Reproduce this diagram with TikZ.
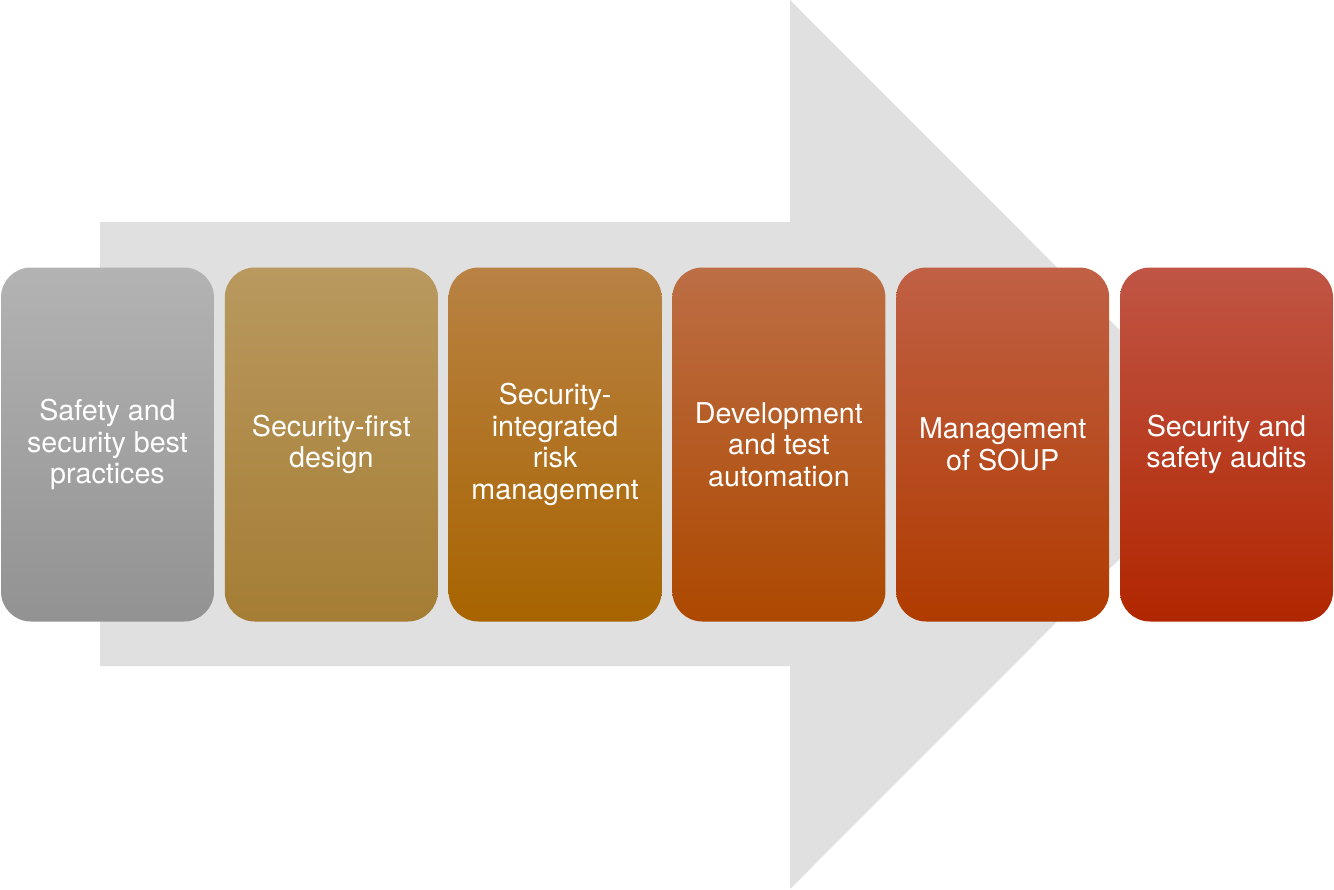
\documentclass[tikz,border=0pt]{standalone}
\usepackage{fontspec}
\setmainfont{TeX Gyre Heros}
\definecolor{arrowgray}{HTML}{E0E0E0}
\definecolor{aT}{HTML}{B3B3B3}\definecolor{aM}{HTML}{A3A3A3}\definecolor{aB}{HTML}{929292}
\definecolor{bT}{HTML}{B9995F}\definecolor{bM}{HTML}{B18A3F}\definecolor{bB}{HTML}{A57D34}
\definecolor{cT}{HTML}{B98244}\definecolor{cM}{HTML}{B27000}\definecolor{cB}{HTML}{A86400}
\definecolor{dT}{HTML}{BD6E45}\definecolor{dM}{HTML}{B95300}\definecolor{dB}{HTML}{AD4800}
\definecolor{eT}{HTML}{C06045}\definecolor{eM}{HTML}{BA4500}\definecolor{eB}{HTML}{B03B00}
\definecolor{fT}{HTML}{C05545}\definecolor{fM}{HTML}{BC3300}\definecolor{fB}{HTML}{B12600}
\tikzset{
  stagebox/.style={rectangle, rounded corners=22.5pt, inner sep=0pt,
    minimum width=159.75pt, minimum height=265.5pt, text=white,
    align=center, font=\fontsize{21.5pt}{23.7pt}\selectfont},
  grad/.style n args={3}{top color=#1, middle color=#2, bottom color=#3}
}
\begin{document}
\begin{tikzpicture}[x=0.75pt,y=-0.75pt]
\useasboundingbox (0,0) rectangle (1334,889);
\fill[arrowgray] (100,222) -- (790,222) -- (790,0) -- (1234,444.5) -- (790,889) -- (790,666) -- (100,666) -- cycle;
\node[stagebox, grad={aT}{aM}{aB}] (s1) at (107.5,444.5) {Safety and\\security best\\practices};
\node[stagebox, grad={bT}{bM}{bB}] (s2) at (331.3,444.5) {Security-first\\design};
\node[stagebox, grad={cT}{cM}{cB}] (s3) at (555.1,444.5) {Security-\\integrated\\risk\\management};
\node[stagebox, grad={dT}{dM}{dB}] (s4) at (778.9,444.5) {Development\\and test\\automation};
\node[stagebox, grad={eT}{eM}{eB}] (s5) at (1002.7,444.5) {Management\\of SOUP};
\node[stagebox, grad={fT}{fM}{fB}] (s6) at (1226.5,444.5) {Security and\\safety audits};
\end{tikzpicture}
\end{document}
